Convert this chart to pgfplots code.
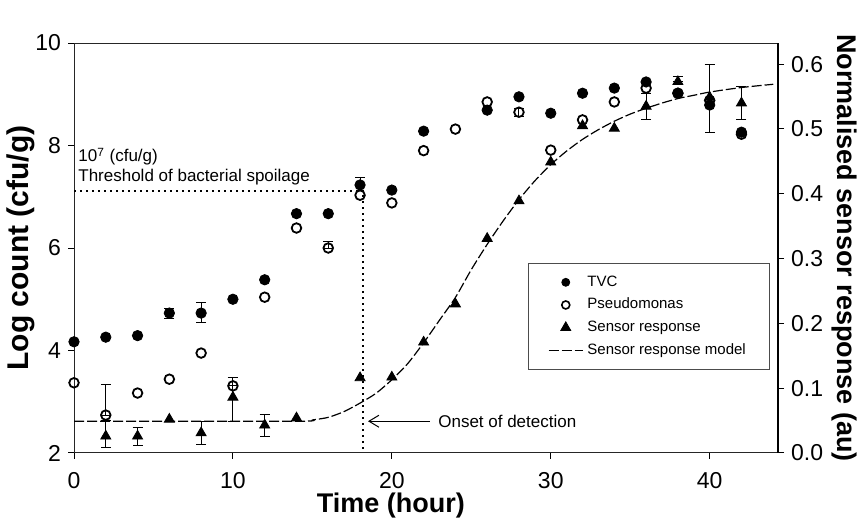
\documentclass[border=0pt]{standalone}
\usepackage{fontspec}
\setmainfont{Liberation Sans}
\usepackage{pgfplots}
\pgfplotsset{compat=1.18}
\usetikzlibrary{arrows.meta}

\pgfplotstableread{
t v
0 4.17
2 4.26
4 4.29
6 4.73
8 4.73
10 5.00
12 5.38
14 6.67
16 6.67
18 7.23
20 7.13
22 8.28
26 8.69
28 8.95
30 8.63
32 9.02
34 9.12
36 9.24
38 9.02
40 8.79
42 8.26
}\tvc

\pgfplotstableread{
t v
0 3.37
2 2.74
4 3.17
6 3.44
8 3.95
10 3.31
12 5.04
14 6.39
16 6.00
18 7.03
20 6.88
22 7.90
24 8.32
26 8.85
28 8.65
30 7.91
32 8.50
34 8.85
36 9.12
38 9.02
40 8.88
42 8.22
}\pseudo

\pgfplotstableread{
t r
2 0.026
4 0.026
6 0.052
8 0.031
10 0.086
12 0.043
14 0.054
18 0.116
20 0.117
22 0.171
24 0.230
26 0.331
28 0.389
30 0.449
32 0.505
34 0.501
36 0.535
38 0.573
40 0.549
42 0.540
}\sensor

\pgfplotstableread{
t r
0 0.049
14 0.049
15 0.051
16 0.055
17 0.064
18 0.077
19 0.092
20 0.113
21 0.138
22 0.170
23 0.205
24 0.240
25 0.283
26 0.322
27 0.358
28 0.391
29 0.420
30 0.445
31 0.466
32 0.484
33 0.499
34 0.512
35 0.523
36 0.532
37 0.540
38 0.547
39 0.552
40 0.557
42 0.564
44 0.569
}\model

\pgfplotsset{errbars/.style={forget plot, draw=none, mark=none,
  error bars/.cd, y dir=both, y explicit,
  error bar style={draw=black, solid, line width=0.5pt},
  error mark options={draw=black, solid, mark size=2.5pt, rotate=90}}}

\begin{document}
\begin{tikzpicture}
\path[use as bounding box] (-37pt,-38pt) rectangle (393.5pt,226.5pt);
\begin{axis}[
  scale only axis, width=352pt, height=205pt,
  xmin=0, xmax=44.3, ymin=2, ymax=10,
  xtick={0,10,20,30,40}, ytick={2,4,6,8,10},
  xtick pos=bottom, ytick pos=left, tick align=outside,
  major tick length=3pt,
  tick style={black, line width=0.5pt},
  axis line style={black!85, line width=0.5pt},
  /pgf/number format/assume math mode=true,
  ticklabel style={font=\fontsize{11.5}{13}\selectfont},
  xticklabel style={yshift=-3pt},
  xlabel={Time (hour)}, ylabel={Log count (cfu/g)},
  xlabel style={font=\fontsize{13.5}{15}\selectfont\bfseries, at={(axis description cs:0.45,-0.127)}, anchor=center},
  ylabel style={font=\fontsize{15}{17}\selectfont\bfseries, at={(axis description cs:-0.076,0.5)}, anchor=center},
  clip=false,
]
% threshold and onset lines
\draw[dotted, line width=1pt] (axis cs:0,7.12) -- (axis cs:18.2,7.12) -- (axis cs:18.2,2);
\node[anchor=west, font=\fontsize{8.5}{10}\selectfont, inner sep=0pt] at (axis cs:0.25,7.78) {10\textsuperscript{7} (cfu/g)};
\node[anchor=west, font=\fontsize{8.5}{10}\selectfont, inner sep=0pt] at (axis cs:0.25,7.39) {Threshold of bacterial spoilage};
% error bars
\addplot[errbars] coordinates {
  (6,4.73) +- (0,0.1)
  (8,4.73) += (0,0.2) -= (0,0.19)
  (18,7.23) += (0,0.14) -= (0,0)
  };
\addplot[errbars] coordinates {
  (2,2.74) += (0,0.59) -= (0,0)
  (10,3.31) += (0,0.17) -= (0,0)
  (16,6.00) += (0,0.12) -= (0,0)
  (28,8.65) +- (0,0.08)
  };
% TVC
\addplot[only marks, mark=*, mark size=2.6pt, black, mark options={fill=black}] table[x=t,y=v] {\tvc};
% Pseudomonas
\addplot[only marks, mark=o, mark size=2.4pt, black, mark options={fill=white, line width=0.9pt}] table[x=t,y=v] {\pseudo};
\end{axis}

\begin{axis}[
  scale only axis, width=352pt, height=205pt,
  xmin=0, xmax=44.3, ymin=0, ymax=0.6327,
  axis x line=none, axis y line*=right,
  ytick={0,0.1,0.2,0.3,0.4,0.5,0.6},
  tick align=outside, major tick length=3pt,
  tick style={black, line width=0.5pt},
  axis line style={black, line width=0.6pt},
  /pgf/number format/assume math mode=true,
  yticklabel style={font=\fontsize{11.5}{13}\selectfont, /pgf/number format/.cd, fixed, fixed zerofill, precision=1},
  ylabel={Normalised sensor response (au)},
  ylabel style={font=\fontsize{13.5}{15}\selectfont\bfseries, rotate=180, at={(axis description cs:1.095,0.5)}, anchor=center},
  clip=false,
  legend style={at={(0.989,0.463)}, anchor=north east, draw=black!70, line width=0.4pt,
    font=\fontsize{7.5}{9}\selectfont, inner xsep=10pt, inner ysep=4pt, row sep=0.5pt},
  legend cell align=left,
]
\addlegendimage{only marks, mark=*, mark size=2pt, black}
\addlegendentry{TVC}
\addlegendimage{only marks, mark=o, mark size=2pt, black, mark options={line width=0.8pt}}
\addlegendentry{Pseudomonas}
% onset arrow
\draw[-{Straight Barb[length=5pt, width=6pt]}, line width=0.5pt] (axis cs:22.4,0.049) -- (axis cs:18.5,0.049);
\node[anchor=west, font=\fontsize{8.5}{10}\selectfont, inner sep=0pt] at (axis cs:22.9,0.049) {Onset of detection};
% sensor error bars
\addplot[errbars] coordinates {
  (2,0.026) += (0,0.025) -= (0,0.018)
  (4,0.026) +- (0,0.014)
  (8,0.031) +- (0,0.017)
  (10,0.086) += (0,0.030) -= (0,0.037)
  (12,0.043) +- (0,0.017)
  (36,0.535) +- (0,0.02)
  (38,0.573) += (0,0.008) -= (0,0)
  (40,0.549) += (0,0.05) -= (0,0.054)
  (42,0.540) +- (0,0.025)
  };
\addplot[only marks, mark=triangle*, mark size=2.9pt, black, mark options={fill=black}] table[x=t,y=r] {\sensor};
\addlegendentry{Sensor response}
\addplot[black, line width=0.6pt, dash pattern=on 5pt off 1.5pt, smooth, tension=0.4] table[x=t,y=r] {\model};
\addlegendentry{Sensor response model}
\end{axis}
\end{tikzpicture}
\end{document}
